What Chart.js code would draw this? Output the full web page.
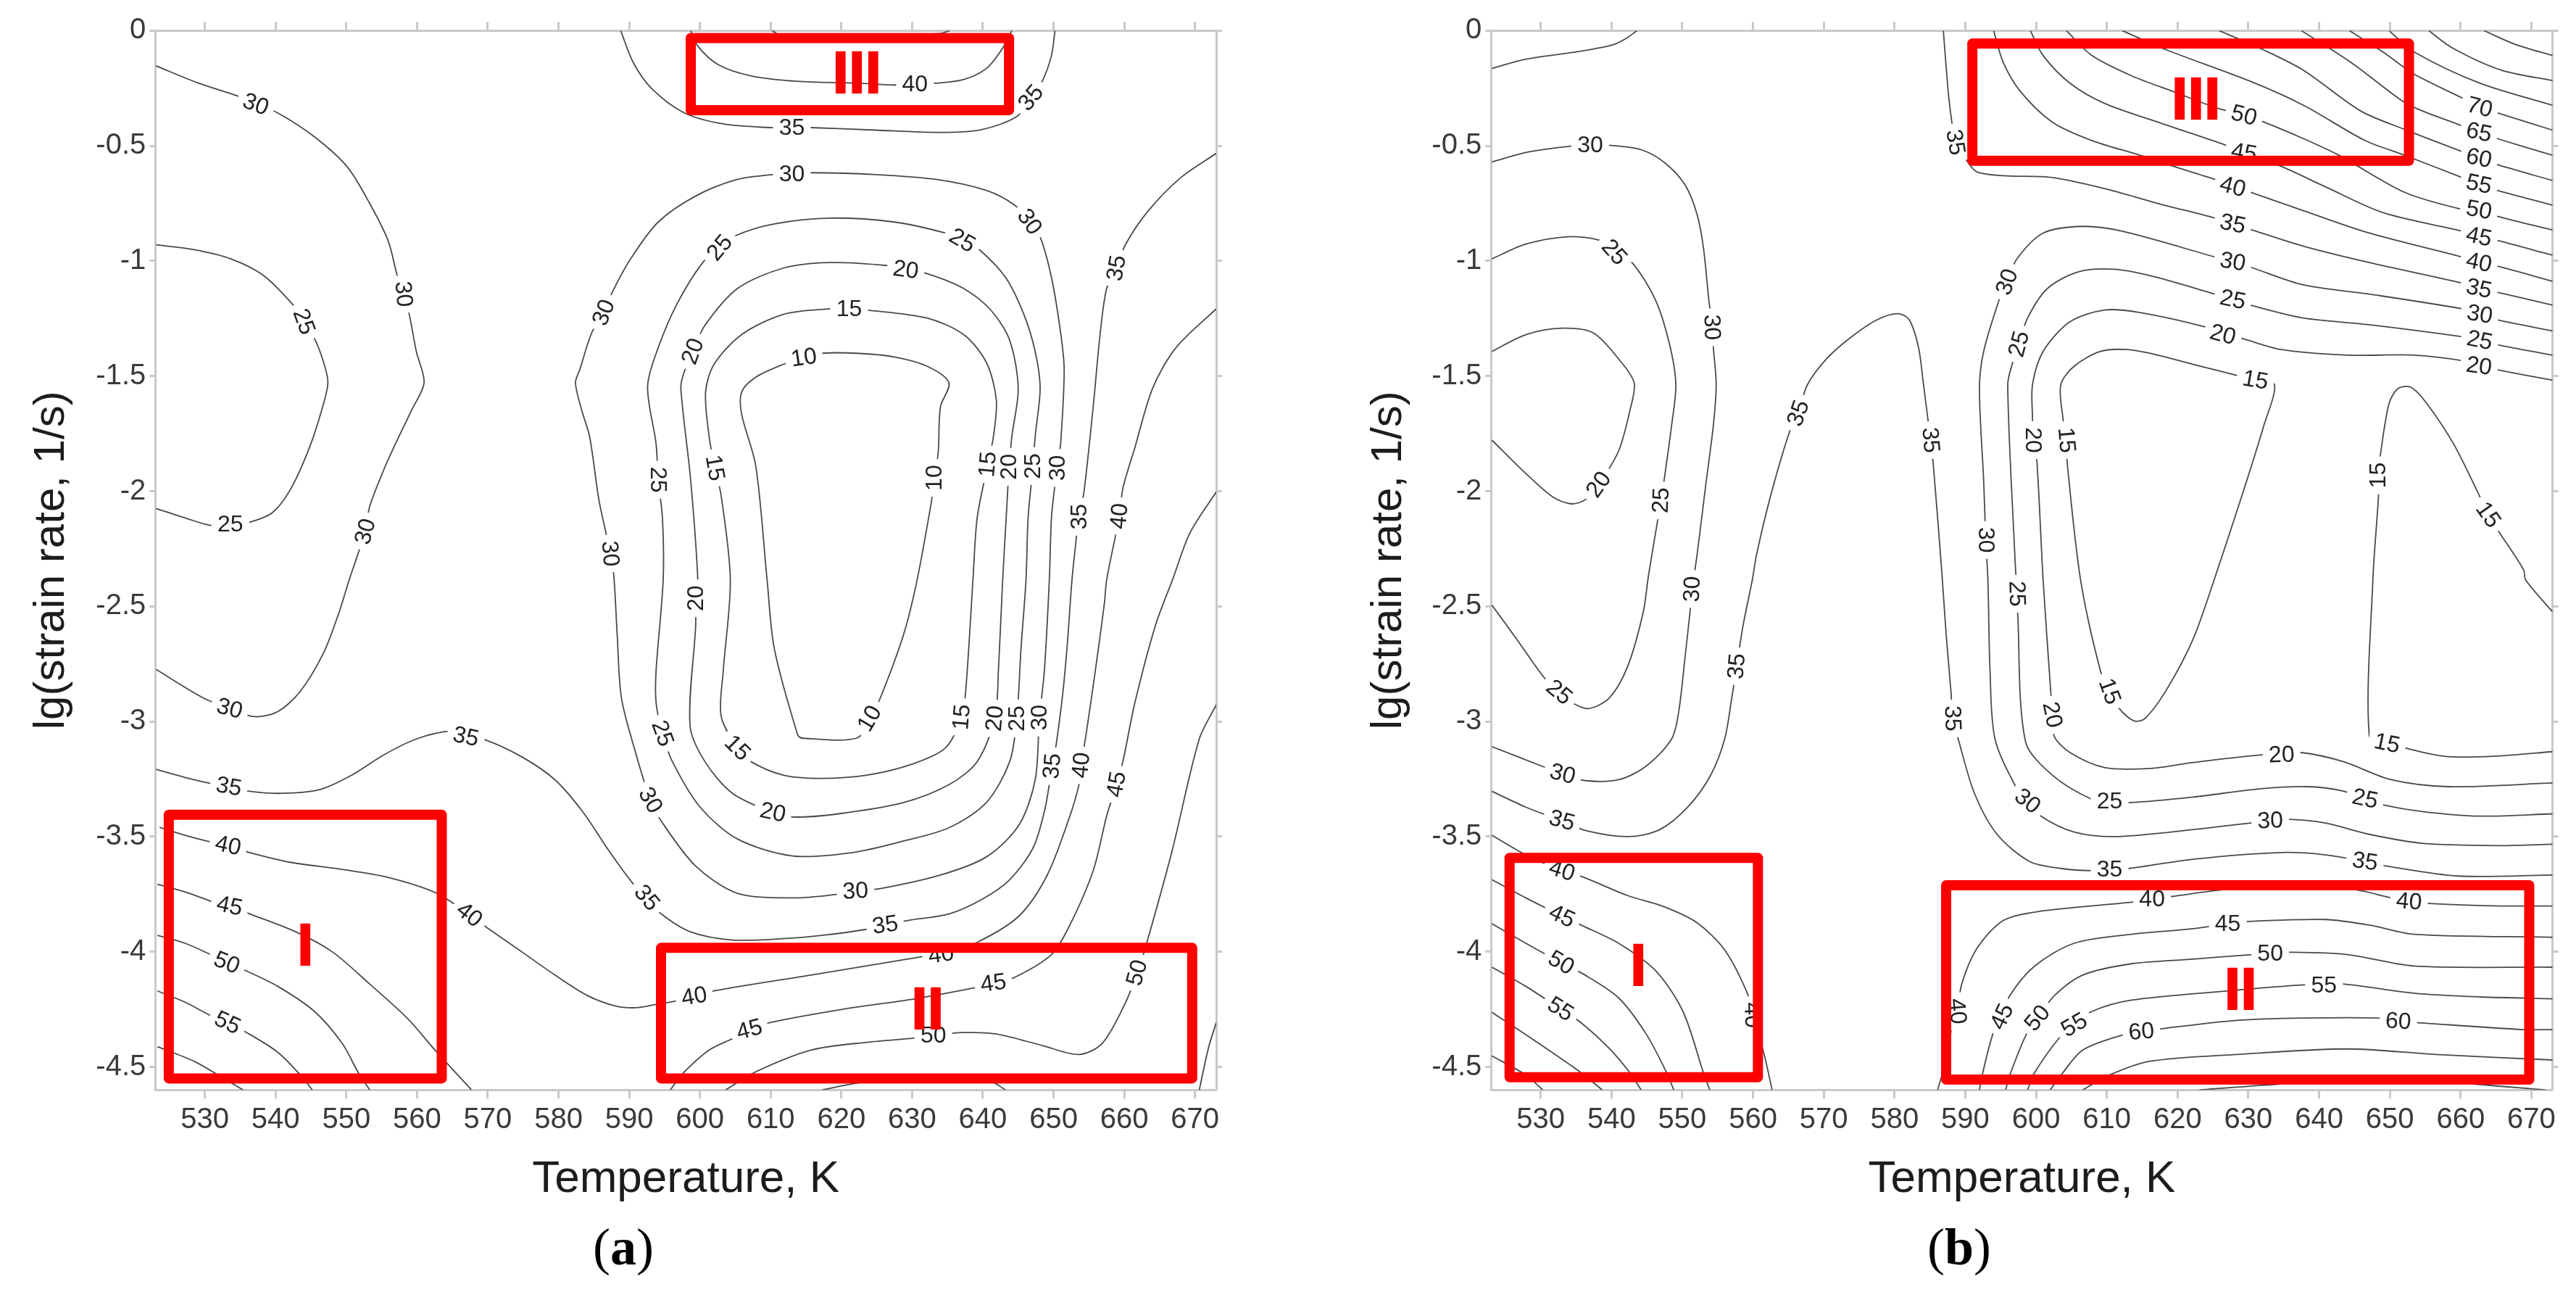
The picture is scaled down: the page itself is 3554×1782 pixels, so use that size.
<!DOCTYPE html>
<html>
<head>
<meta charset="utf-8">
<title>Contour maps</title>
<script src="https://cdn.jsdelivr.net/npm/chart.js@4"></script>
<style>
  body { margin: 0; background: #fff; width: 3554px; height: 1782px; position: relative; overflow: hidden; }
  canvas { position: absolute; top: 0; }
  .cap { position: absolute; top: 1684px; font: 72px/1 "Liberation Serif", serif; color: #000; transform: translateX(-50%); }
</style>
</head>
<body>
<canvas id="chartA" width="1777" height="1782" style="left:0"></canvas>
<canvas id="chartB" width="1777" height="1782" style="left:1777px"></canvas>
<div class="cap" style="left:860px">(<b>a</b>)</div>
<div class="cap" style="left:2703px">(<b>b</b>)</div>
<script>
const xTicks = [530, 540, 550, 560, 570, 580, 590, 600, 610, 620, 630, 640, 650, 660, 670];
const yTicks = [0, -0.5, -1, -1.5, -2, -2.5, -3, -3.5, -4, -4.5];

// panel (a) contours, [temperature, lg rate]
const a30Left = [[523.1,-.153],[529.1,-.228],[535,-.288],[537.2,-.32],[540.3,-.357],[545.5,-.461],[550.1,-.59],[553.3,-.75],[555.9,-.911],[557.2,-1.063],[558.1,-1.144],[558.9,-1.232],[559.9,-1.393],[561,-1.529],[559.2,-1.65],[557.2,-1.778],[555.3,-1.907],[553.3,-2.067],[552.7,-2.175],[551.7,-2.268],[550.4,-2.386],[549,-2.524],[546.8,-2.701],[543.5,-2.869],[540.3,-2.957],[537,-2.979],[533.5,-2.944],[529.8,-2.898],[523.1,-2.774]];
const a25Left = [[523.1,-.93],[528.5,-.951],[533.7,-.991],[538.3,-1.063],[542.5,-1.192],[544,-1.264],[545.5,-1.337],[546.8,-1.441],[547.4,-1.529],[546.5,-1.65],[544.8,-1.81],[542.2,-1.987],[539.6,-2.092],[536.3,-2.135],[533.6,-2.145],[530.8,-2.148],[527.2,-2.116],[523.1,-2.075]];
const a35Long = [[523.1,-3.208],[527.2,-3.243],[531.4,-3.273],[533.4,-3.283],[536.3,-3.303],[540.9,-3.312],[546.1,-3.297],[550.7,-3.234],[555.3,-3.145],[559.9,-3.076],[564.8,-3.042],[566.9,-3.066],[569.7,-3.08],[574.9,-3.155],[579.5,-3.253],[583.4,-3.391],[587.3,-3.569],[590.6,-3.707],[592.5,-3.766],[594.5,-3.835],[598.7,-3.914],[604.6,-3.949],[611.8,-3.943],[617.7,-3.927],[623.2,-3.904],[626.2,-3.884],[629.4,-3.864],[635.3,-3.835],[639.9,-3.772],[643.8,-3.687],[647.1,-3.549],[648.7,-3.391],[649.4,-3.273],[649.8,-3.194],[650.3,-3.115],[651.3,-2.879],[652,-2.642],[652.6,-2.386],[653.3,-2.18],[653.6,-2.111],[654.3,-2.003],[655.6,-1.634],[656.6,-1.312],[657.5,-1.12],[658.9,-1.031],[660.2,-.927],[663.4,-.782],[668,-.638],[673,-.533]];
const a40Long = [[523.6,-3.46],[527.2,-3.494],[531.1,-3.525],[533.3,-3.539],[536.3,-3.569],[542.2,-3.612],[549.4,-3.642],[555.9,-3.677],[562.8,-3.746],[567.4,-3.839],[570.3,-3.904],[574.9,-4.002],[579.5,-4.101],[584.1,-4.19],[588,-4.235],[590.9,-4.243],[593.8,-4.229],[597.4,-4.209],[599.2,-4.194],[602,-4.17],[615.7,-4.101],[632.1,-4.018],[634.1,-4.012],[639.2,-3.959],[645.1,-3.845],[649.1,-3.667],[652.3,-3.411],[653.6,-3.273],[653.9,-3.19],[654.6,-3.056],[655.9,-2.78],[657.2,-2.484],[657.5,-2.386],[659.3,-2.108],[659.8,-1.987],[661.5,-1.81],[664,-1.553],[667.3,-1.377],[673,-1.208]];
const a45Left = [[523.3,-3.707],[527.8,-3.746],[531.4,-3.786],[533.5,-3.801],[536.3,-3.835],[542.9,-3.914],[548.1,-4.002],[553.3,-4.14],[558.6,-4.288],[562.8,-4.436],[567.7,-4.6]];
const a50Left = [[523.3,-3.929],[527.2,-3.963],[530.8,-4.012],[533.1,-4.048],[535.7,-4.081],[540.3,-4.15],[545.5,-4.259],[549.4,-4.397],[551.7,-4.525],[553.3,-4.6]];
const a55Left = [[523.3,-4.17],[527.2,-4.219],[531.1,-4.282],[533.2,-4.308],[535.7,-4.347],[540.3,-4.436],[543.5,-4.535],[545.2,-4.6]];
const a60Left = [[523.3,-4.412],[528.5,-4.476],[532.4,-4.545],[535.4,-4.6]];
const a35Top = [[588.8,0],[590.6,-.14],[593.2,-.252],[597.8,-.357],[603.3,-.405],[609.8,-.421],[613,-.421],[615.7,-.421],[624.9,-.432],[634,-.442],[639.9,-.429],[644.8,-.373],[646.8,-.292],[648.4,-.22],[649.7,-.108],[650.2,0]];
const a40Top = [[598.7,0],[599.7,-.067],[602.6,-.148],[607.2,-.196],[613.8,-.22],[622.2,-.228],[627.5,-.236],[630.4,-.233],[633.4,-.228],[637.3,-.212],[640.5,-.164],[642.8,-.076],[644.1,0]];
const a45Top = [[610.2,0],[611.1,-.015],[622.2,-.03],[634,-.012],[635.3,0]];
const a30Loop = [[650.55,-1.899],[651,-1.794],[651.5,-1.473],[651,-1.312],[649.7,-1.071],[648.1,-.895],[646.6,-.83],[644.5,-.758],[640.5,-.694],[633.4,-.646],[624.9,-.625],[615.7,-.617],[613,-.622],[610.2,-.625],[605.3,-.646],[599.4,-.718],[594.1,-.831],[590.2,-.991],[587.6,-1.136],[586.4,-1.224],[584.7,-1.312],[583,-1.473],[582.4,-1.529],[583.3,-1.65],[584.4,-1.762],[585.7,-2.035],[586.7,-2.18],[587.3,-2.271],[587.8,-2.357],[588.3,-2.622],[588.9,-2.898],[590.9,-3.135],[593,-3.342],[594.5,-3.431],[599.4,-3.628],[605.3,-3.746],[613.1,-3.766],[619,-3.752],[622,-3.736],[625.5,-3.726],[634,-3.667],[640.5,-3.588],[645.1,-3.45],[647.4,-3.253],[648,-2.983],[648.7,-2.78],[649.4,-2.386],[649.7,-2.116],[650.2,-1.971],[650.55,-1.899]];
const a25Loop = [[647.1,-1.891],[647.4,-1.762],[648.1,-1.553],[647.4,-1.393],[645.8,-1.232],[643.2,-1.071],[639.2,-.943],[637.1,-.911],[634.7,-.879],[627.5,-.831],[618.3,-.814],[610.5,-.839],[605.3,-.887],[602.8,-.943],[600.4,-1.007],[596.8,-1.184],[594.1,-1.377],[592.6,-1.545],[593.8,-1.794],[594.1,-1.95],[594.7,-2.116],[594.8,-2.386],[593.8,-2.78],[593.8,-2.918],[594.7,-3.052],[596.1,-3.174],[600,-3.371],[605.3,-3.51],[613.1,-3.584],[621.6,-3.569],[628.8,-3.519],[635.3,-3.46],[640.5,-3.352],[643.8,-3.174],[644.8,-2.987],[645.4,-2.681],[646.1,-2.386],[646.4,-2.116],[647.1,-1.891]];
const a20Loop = [[643.7,-1.894],[644.1,-1.762],[645,-1.553],[643.8,-1.345],[641.2,-1.216],[637.3,-1.12],[632.1,-1.055],[629.1,-1.039],[626.5,-1.02],[618.3,-1.007],[611.8,-1.031],[605.3,-1.12],[600.7,-1.28],[599,-1.393],[597.7,-1.489],[597.3,-1.553],[598.7,-1.955],[599.7,-2.386],[599.4,-2.465],[599.4,-2.583],[598.6,-3.017],[600.7,-3.174],[604.6,-3.312],[610.3,-3.395],[613.1,-3.415],[619.6,-3.401],[628.8,-3.352],[635.3,-3.273],[639.2,-3.174],[641.7,-2.987],[642.2,-2.78],[642.8,-2.386],[643.3,-2.116],[643.7,-1.894]];
const a15Loop = [[640.7,-1.883],[641.5,-1.762],[641.9,-1.602],[640.5,-1.441],[637.3,-1.32],[632.1,-1.248],[623.6,-1.213],[621.1,-1.208],[618.3,-1.208],[611.8,-1.232],[605.9,-1.32],[602,-1.449],[600.8,-1.569],[601.3,-1.762],[602.1,-1.899],[603,-2.019],[604.3,-2.386],[603.3,-2.78],[603,-2.977],[605.3,-3.115],[607.2,-3.174],[611.8,-3.233],[617,-3.247],[623.6,-3.233],[630.1,-3.184],[634.7,-3.115],[637,-2.981],[637.6,-2.859],[638.6,-2.386],[639.2,-2.116],[640.7,-1.883]];
const a10Loop = [[633.2,-1.942],[633.7,-1.826],[634,-1.634],[635.2,-1.529],[632.1,-1.457],[627.5,-1.417],[622.2,-1.401],[617.3,-1.401],[614.7,-1.42],[611.8,-1.449],[607.9,-1.505],[605.9,-1.569],[605.9,-1.666],[607.9,-1.891],[609.5,-2.386],[610.5,-2.681],[613.8,-3.056],[614.4,-3.072],[622.2,-3.072],[624,-2.987],[625.5,-2.898],[628.8,-2.622],[630.7,-2.386],[632.7,-2.051],[633.2,-1.942]];
const a45Right = [[595.8,-4.6],[597.7,-4.525],[601.3,-4.427],[604.6,-4.377],[607,-4.338],[609.8,-4.308],[620.3,-4.249],[630.4,-4.204],[639.9,-4.15],[641.5,-4.136],[644.5,-4.111],[649.7,-4.012],[652.3,-3.884],[655.6,-3.648],[657.5,-3.411],[658.9,-3.273],[659.8,-3.174],[661.5,-2.918],[664.4,-2.583],[666.8,-2.386],[669.3,-2.18],[673,-2.003]];
const a50Right = [[603.6,-4.6],[607.9,-4.521],[615.7,-4.427],[623.6,-4.393],[631.1,-4.373],[633,-4.363],[637.3,-4.351],[641.9,-4.357],[648.4,-4.407],[653.6,-4.446],[656.9,-4.397],[660.2,-4.219],[661.8,-4.091],[662.8,-4.002],[666.7,-3.569],[670.6,-3.076],[673,-2.928]];
const a55Right = [[617.3,-4.6],[622.2,-4.57],[632,-4.535],[641.2,-4.565],[643.2,-4.6]];
const a55Corner = [[670.6,-4.6],[671.9,-4.417],[673,-4.308]];
const contoursA = [a30Left, a25Left, a35Long, a40Long, a45Left, a50Left, a55Left, a60Left, a35Top, a40Top, a45Top, a30Loop, a25Loop, a20Loop, a15Loop, a10Loop, a45Right, a50Right, a55Right, a55Corner];

// [level text, temperature, lg rate, text angle]
const labelsA = [
  ['30',537.2,-.32,20],['30',558.1,-1.144,85],['30',552.7,-2.175,-75],['30',533.5,-2.944,15],
  ['25',544,-1.264,70],['25',533.6,-2.145,0],['35',533.4,-3.283,10],['35',566.9,-3.066,12],
  ['35',592.5,-3.766,50],['35',626.2,-3.884,-8],['35',649.8,-3.194,-85],['35',653.6,-2.111,-90],['35',658.9,-1.031,-80],
  ['40',533.3,-3.539,12],['40',567.4,-3.839,38],['40',599.2,-4.194,-10],['40',634.1,-4.012,-8],['40',653.9,-3.19,-85],['40',659.3,-2.108,-85],
  ['45',533.5,-3.801,12],['50',533.1,-4.048,22],['55',533.2,-4.308,25],
  ['35',613,-.421,0],['35',646.8,-.292,-50],['40',630.4,-.233,0],
  ['30',650.55,-1.899,-90],['30',646.6,-.83,55],['30',613,-.622,0],['30',586.4,-1.224,-68],['30',587.3,-2.271,85],['30',593,-3.342,60],['30',622,-3.736,-3],['30',648,-2.983,-90],
  ['25',647.1,-1.891,-90],['25',637.1,-.911,30],['25',602.8,-.943,-50],['25',594.1,-1.95,90],['25',594.7,-3.052,70],['25',644.8,-2.987,-90],
  ['20',643.7,-1.894,-90],['20',629.1,-1.039,8],['20',599,-1.393,-70],['20',599.4,-2.465,-90],['20',610.3,-3.395,12],['20',641.7,-2.987,-85],
  ['15',640.7,-1.883,-85],['15',621.1,-1.208,0],['15',602.1,-1.899,80],['15',605.3,-3.115,45],['15',637,-2.981,-85],
  ['10',633.2,-1.942,-90],['10',614.7,-1.42,-8],['10',624,-2.987,-60],
  ['45',607,-4.338,-15],['45',641.5,-4.136,-8],['45',658.9,-3.273,-80],['50',633,-4.363,0],['50',661.8,-4.091,-75]
];
// [Tmin, Tmax, lg top, lg bottom]
const boxesA = [[524.9,563.5,-3.405,-4.55],[594.5,669.6,-3.983,-4.55],[598.7,643.7,-.032,-.345]];
const numeralsA = [['I',544.2,-3.969],['II',632.2,-4.245],['III',622.2,-.18]];

// panel (b) contours
const b25Top = [[523.1,-.164],[527.9,-.124],[534.4,-.095],[540,-.063],[542,-.035],[543.6,0]];
const b30Left = [[523.1,-.57],[527.9,-.529],[534.4,-.501],[537,-.498],[539.7,-.498],[544.2,-.517],[547.5,-.573],[550.4,-.67],[552.1,-.798],[553,-.943],[553.7,-1.152],[554.2,-1.288],[554.4,-1.377],[554.8,-1.537],[554.4,-1.714],[553.4,-1.955],[552.1,-2.276],[551.4,-2.425],[551.1,-2.524],[550.4,-2.721],[549.5,-2.958],[548.5,-3.076],[544.9,-3.194],[541,-3.253],[536.4,-3.257],[533.1,-3.228],[530.5,-3.198],[523.1,-3.109]];
const b25Left = [[523.1,-.991],[527.9,-.927],[533.8,-.895],[538.4,-.911],[540.4,-.962],[542.9,-1.007],[546.2,-1.168],[548.2,-1.361],[549.1,-1.537],[548.5,-1.714],[547.5,-1.939],[547,-2.04],[546.5,-2.132],[545.2,-2.373],[544.5,-2.524],[542.3,-2.76],[539.7,-2.898],[536.7,-2.944],[534.4,-2.918],[532.6,-2.873],[530.5,-2.81],[526.6,-2.642],[523.1,-2.494]];
const b20Left = [[523.1,-1.393],[527.9,-1.32],[533.1,-1.292],[537.4,-1.312],[541,-1.425],[543.2,-1.529],[542.6,-1.65],[541,-1.826],[538.2,-1.971],[536.4,-2.035],[534.4,-2.055],[531.8,-2.027],[527.9,-1.923],[523.1,-1.778]];
const b35Long = [[523.1,-3.303],[527.9,-3.372],[531.2,-3.411],[533,-3.43],[536.4,-3.474],[542.3,-3.5],[546.8,-3.47],[550.8,-3.371],[554,-3.234],[556,-3.076],[557,-2.898],[557.7,-2.76],[558.6,-2.583],[559.9,-2.386],[560.5,-2.276],[562.5,-2.019],[565.1,-1.748],[566.4,-1.661],[567.7,-1.537],[570.4,-1.425],[573.6,-1.337],[577.5,-1.256],[580.5,-1.229],[582.1,-1.256],[583.4,-1.377],[584.1,-1.537],[584.7,-1.682],[585.1,-1.778],[585.5,-1.891],[586.7,-2.357],[587.3,-2.622],[588,-2.879],[588.2,-2.987],[589,-3.076],[591.3,-3.312],[594.5,-3.49],[599.1,-3.608],[603.5,-3.638],[607.9,-3.648],[610.4,-3.642],[613.2,-3.638],[622.2,-3.598],[634.7,-3.569],[640.9,-3.579],[646.5,-3.608],[649.6,-3.628],[659.6,-3.671],[673,-3.667]];
const b40Left = [[523.1,-3.494],[527.9,-3.579],[533,-3.648],[536.1,-3.677],[542.3,-3.756],[547.5,-3.805],[552.1,-3.874],[556,-3.992],[559.2,-4.18],[559.9,-4.275],[561.5,-4.436],[562.7,-4.6]];
const b45Left = [[523.1,-3.687],[527.9,-3.766],[533,-3.845],[535.7,-3.884],[541,-3.963],[546.2,-4.081],[550.1,-4.259],[553,-4.525],[553.9,-4.6]];
const b50Left = [[523.1,-3.878],[527.9,-3.963],[532.9,-4.048],[535.7,-4.091],[541,-4.2],[544.9,-4.357],[547.8,-4.525],[548.8,-4.6]];
const b55Left = [[523.1,-4.067],[527.9,-4.15],[532.8,-4.249],[535.7,-4.308],[539.6,-4.417],[542.6,-4.525],[544.2,-4.6]];
const b60Left = [[523.1,-4.263],[529.2,-4.387],[535.7,-4.525],[538.7,-4.6]];
const b65Left = [[523.1,-4.452],[527.9,-4.535],[530.3,-4.6]];
const b30Right = [[673,-3.533],[665.8,-3.539],[654.6,-3.529],[647.1,-3.49],[640.9,-3.441],[635.9,-3.425],[633.1,-3.431],[630.3,-3.441],[619.1,-3.48],[611,-3.5],[605.4,-3.48],[600.7,-3.411],[598.8,-3.346],[597.3,-3.293],[594.2,-3.076],[593.5,-2.78],[593.2,-2.386],[592.9,-2.212],[592.6,-1.955],[592,-1.553],[592.6,-1.393],[594.8,-1.168],[595.9,-1.091],[597.3,-.991],[601,-.879],[606.6,-.85],[612.2,-.871],[625.3,-.983],[627.8,-1.004],[630.3,-1.027],[637.8,-1.104],[647.1,-1.144],[660.2,-1.208],[662.7,-1.232],[665.2,-1.256],[673,-1.304]];
const b25Right = [[673,-3.401],[662.7,-3.411],[654.6,-3.391],[649,-3.362],[646.5,-3.336],[643.4,-3.302],[638.4,-3.283],[631.5,-3.293],[622.2,-3.328],[613.2,-3.352],[610.4,-3.346],[607.9,-3.338],[602.3,-3.233],[598.5,-3.086],[597.4,-2.524],[597.3,-2.445],[597,-2.276],[596,-1.537],[596.7,-1.441],[597.6,-1.361],[598.8,-1.248],[601.6,-1.12],[606,-1.047],[611,-1.036],[616,-1.063],[625.3,-1.144],[627.8,-1.168],[630.3,-1.192],[637.8,-1.248],[647.1,-1.277],[660.2,-1.329],[662.7,-1.345],[665.2,-1.364],[673,-1.409]];
const b20Right = [[673,-3.267],[658.3,-3.283],[650.2,-3.253],[643.4,-3.174],[637.5,-3.135],[634.7,-3.145],[631.9,-3.145],[622.2,-3.178],[616,-3.204],[609.7,-3.2],[604.8,-3.135],[602.6,-3.066],[602.3,-2.971],[602.1,-2.879],[601,-2.386],[600.1,-1.859],[599.6,-1.778],[599.5,-1.682],[599.5,-1.537],[601,-1.393],[604.8,-1.264],[609.7,-1.213],[614.7,-1.224],[624.1,-1.288],[626.4,-1.32],[629.1,-1.337],[634.7,-1.385],[644,-1.409],[653.4,-1.409],[660.2,-1.433],[662.6,-1.457],[665.2,-1.473],[673,-1.518]];
const b15Right = [[673,-3.131],[664.6,-3.151],[657.7,-3.151],[652.1,-3.115],[649.6,-3.095],[647.1,-3.066],[647.6,-2.386],[648.4,-2.019],[648.4,-1.931],[648.7,-1.835],[649.9,-1.618],[651.2,-1.553],[653,-1.549],[655.2,-1.618],[659,-1.794],[662.4,-2.003],[663.9,-2.103],[665.5,-2.18],[668.9,-2.341],[669.2,-2.386],[673,-2.524]];
const b15Inner = [[604.3,-1.778],[603.8,-1.682],[603.5,-1.537],[605.4,-1.457],[609.1,-1.393],[612.9,-1.385],[617.2,-1.409],[622.2,-1.449],[628.4,-1.497],[631,-1.518],[633.7,-1.537],[632.2,-1.714],[629.1,-2.019],[625.3,-2.373],[622.2,-2.642],[618.5,-2.859],[615.4,-2.987],[613.8,-2.997],[611.6,-2.938],[610.4,-2.869],[609.1,-2.78],[606.3,-2.386],[604.4,-1.875],[604.3,-1.778]];
const b35Top = [[586.9,0],[587.6,-.268],[588.1,-.397],[588.6,-.485],[590.4,-.573],[591.7,-.614],[595.4,-.63],[602.3,-.638],[609.7,-.686],[617.2,-.75],[625.3,-.814],[627.8,-.839],[630.6,-.866],[637.8,-.936],[647.1,-1.007],[660.2,-1.096],[662.6,-1.12],[665.2,-1.136],[673,-1.192]];
const b40Top = [[594,0],[595.4,-.14],[597.9,-.268],[602.3,-.397],[607.9,-.477],[614.7,-.541],[619.1,-.586],[625.3,-.646],[627.8,-.678],[630.6,-.705],[637.8,-.782],[647.1,-.879],[660.2,-.983],[662.6,-1.007],[665.2,-1.023],[673,-1.088]];
const b45Top = [[599.2,0],[601,-.108],[604.8,-.228],[609.7,-.316],[617.2,-.397],[627.2,-.501],[629.4,-.53],[634.7,-.59],[640.9,-.678],[649,-.79],[660.2,-.871],[662.6,-.895],[665.2,-.911],[673,-.975]];
const b50Top = [[604.3,0],[607.9,-.108],[613.5,-.196],[619.7,-.268],[625.3,-.333],[629.4,-.368],[632.2,-.397],[637.8,-.469],[642.8,-.541],[652.1,-.702],[660.2,-.776],[662.6,-.779],[665.2,-.806],[673,-.866]];
const b55Top = [[612.2,0],[618.5,-.084],[630.3,-.22],[637.8,-.324],[646.5,-.477],[652.1,-.541],[660.2,-.638],[662.6,-.667],[665.2,-.694],[673,-.758]];
const b60Top = [[625.9,0],[632.2,-.084],[637.8,-.172],[645.9,-.349],[652.1,-.429],[660.2,-.525],[662.6,-.554],[665.2,-.582],[673,-.651]];
const b65Top = [[637.5,0],[644.6,-.14],[651.5,-.3],[654,-.341],[660.2,-.413],[662.6,-.442],[665.2,-.469],[673,-.541]];
const b70Top = [[644.3,0],[649,-.092],[653.4,-.188],[660.2,-.292],[662.7,-.333],[665.2,-.357],[673,-.432]];
const b75Top = [[649.9,0],[653.4,-.092],[662.7,-.228],[673,-.324]];
const b80Top = [[655.5,0],[658.9,-.076],[665.8,-.172],[673,-.217]];
const b85Top = [[663.3,0],[667.7,-.059],[673,-.108]];
const b40Low = [[586.1,-4.6],[586.7,-4.535],[587.9,-4.357],[588.9,-4.259],[589.5,-4.14],[591.7,-3.983],[595.4,-3.864],[600.4,-3.825],[613.5,-3.785],[616.4,-3.772],[619.1,-3.76],[628.4,-3.726],[644,-3.726],[650.2,-3.766],[652.7,-3.782],[655.5,-3.79],[665.8,-3.801],[673,-3.801]];
const b45Low = [[592,-4.6],[592.4,-4.535],[593.9,-4.357],[595.2,-4.282],[596.3,-4.19],[599.8,-4.062],[605.4,-3.963],[613.5,-3.924],[622.2,-3.9],[627.1,-3.878],[630,-3.868],[640.9,-3.86],[647.1,-3.884],[653.4,-3.924],[673,-3.937]];
const b50Low = [[595.7,-4.6],[596.3,-4.535],[598.5,-4.367],[600.2,-4.288],[602.6,-4.19],[606.6,-4.101],[613.5,-4.052],[622.2,-4.032],[630.6,-4.012],[633.1,-4.008],[635.9,-4.002],[644,-4.012],[653.4,-4.062],[673,-4.067]];
const b55Low = [[598.8,-4.6],[599.8,-4.525],[603.2,-4.377],[605.4,-4.318],[607.9,-4.259],[613.5,-4.21],[627.2,-4.17],[637.8,-4.144],[640.7,-4.146],[643.4,-4.14],[653.4,-4.18],[662.7,-4.196],[673,-4.204]];
const b60Low = [[602,-4.6],[603.8,-4.525],[606.6,-4.427],[611.6,-4.367],[614.9,-4.347],[617.8,-4.334],[628.4,-4.298],[637.8,-4.288],[648.4,-4.288],[651.2,-4.302],[654,-4.308],[668.9,-4.338],[673,-4.338]];
const b65Low = [[606.6,-4.6],[610.4,-4.535],[616,-4.476],[628.4,-4.446],[644,-4.422],[656.5,-4.446],[673,-4.47]];
const b70Low = [[623.1,-4.6],[634.7,-4.574],[647.1,-4.554],[659.6,-4.57],[672,-4.6]];
const contoursB = [b25Top, b30Left, b25Left, b20Left, b35Long, b40Left, b45Left, b50Left, b55Left, b60Left, b65Left, b30Right, b25Right, b20Right, b15Right, b15Inner, b35Top, b40Top, b45Top, b50Top, b55Top, b60Top, b65Top, b70Top, b75Top, b80Top, b85Top, b40Low, b45Low, b50Low, b55Low, b60Low, b65Low, b70Low];

const labelsB = [
  ['30',537,-.498,0],['30',554.2,-1.288,88],['30',551.4,-2.425,-88],['30',533.1,-3.228,15],
  ['25',540.4,-.962,48],['25',547,-2.04,-88],['25',532.6,-2.873,40],['20',538.2,-1.971,-55],
  ['35',533,-3.43,15],['35',557.7,-2.76,-85],['35',566.4,-1.661,-70],['35',585.1,-1.778,85],['35',588.2,-2.987,88],['35',610.4,-3.642,0],['35',646.5,-3.608,8],
  ['40',533,-3.648,18],['40',559.9,-4.275,88],['45',533,-3.845,25],['50',532.9,-4.048,30],['55',532.8,-4.249,32],
  ['30',633.1,-3.431,-2],['30',598.8,-3.346,38],['30',592.9,-2.212,90],['30',595.9,-1.091,-70],['30',627.8,-1.004,10],['30',662.7,-1.232,10],
  ['25',646.5,-3.336,12],['25',610.4,-3.346,0],['25',597.3,-2.445,88],['25',597.6,-1.361,-75],['25',627.8,-1.168,12],['25',662.7,-1.345,12],
  ['20',634.7,-3.145,-2],['20',602.3,-2.971,78],['20',599.6,-1.778,90],['20',626.4,-1.32,15],['20',662.6,-1.457,8],
  ['15',649.6,-3.095,12],['15',648.4,-1.931,-90],['15',663.9,-2.103,55],['15',631,-1.518,10],['15',610.4,-2.869,70],['15',604.3,-1.778,85],
  ['35',588.6,-.485,80],['35',627.8,-.839,12],['35',662.6,-1.12,12],
  ['40',627.8,-.678,15],['40',662.6,-1.007,12],['45',629.4,-.53,10],['45',662.6,-.895,12],
  ['50',629.4,-.368,15],['50',662.6,-.779,10],['55',662.6,-.667,12],['60',662.6,-.554,12],['65',662.6,-.442,12],['70',662.7,-.333,15],
  ['40',588.9,-4.259,85],['40',616.4,-3.772,0],['40',652.7,-3.782,5],['45',595.2,-4.282,-65],['45',627.1,-3.878,0],
  ['50',600.2,-4.288,-50],['50',633.1,-4.008,0],['55',605.4,-4.318,-30],['55',640.7,-4.146,0],['60',614.9,-4.347,-5],['60',651.2,-4.302,3]
];
const boxesB = [[525.6,560.7,-3.592,-4.545],[587.3,669.7,-3.711,-4.555],[591,652.7,-.056,-.565]];
const numeralsB = [['I',543.8,-4.056],['II',628.9,-4.16],['III',622.6,-.293]];

const axisGray = '#c9c9c9';
const sans = '"Liberation Sans", Arial, sans-serif';

// draws contour numbers with a white gap under them, below the red boxes
const contourLabels = {
  id: 'contourLabels',
  beforeDatasetDraw(chart, args, opts) {
    if (args.index !== opts.boxCount - 1) return;
    const { ctx, scales: { x, y } } = chart;
    opts.rows.forEach(([text, t, lg, angle]) => {
      ctx.save();
      ctx.translate(x.getPixelForValue(t), y.getPixelForValue(lg));
      ctx.rotate(angle * Math.PI / 180);
      ctx.fillStyle = '#fff';
      ctx.fillRect(-26, -13, 52, 26);
      ctx.fillStyle = '#222';
      ctx.font = '32px ' + sans;
      ctx.textAlign = 'center';
      ctx.textBaseline = 'middle';
      ctx.fillText(text, 0, 1);
      ctx.restore();
    });
  }
};

const romanNumerals = {
  id: 'romanNumerals',
  afterDatasetsDraw(chart, args, opts) {
    const { ctx, scales: { x, y } } = chart;
    opts.rows.forEach(([text, t, lg]) => {
      ctx.save();
      ctx.fillStyle = '#f00';
      ctx.strokeStyle = '#f00';
      ctx.lineWidth = 2;
      ctx.font = 'bold 81px ' + sans;
      ctx.textAlign = 'center';
      ctx.textBaseline = 'middle';
      ctx.fillText(text, x.getPixelForValue(t), y.getPixelForValue(lg) + 6);
      ctx.strokeText(text, x.getPixelForValue(t), y.getPixelForValue(lg) + 6);
      ctx.restore();
    });
  }
};

function pairs(list) {
  return list.map(p => ({ x: p[0], y: p[1] }));
}

function boxOutline(b) {
  return [[b[0], b[2]], [b[1], b[2]], [b[1], b[3]], [b[0], b[3]], [b[0], b[2]]];
}

function plotPanel(id, contours, boxes, labels, numerals, leftWidth, rightPad, yTitlePad) {
  const setTicks = list => scale => { scale.ticks = list.map(v => ({ value: v })); };
  const grid = len => ({ drawOnChartArea: false, tickLength: len, tickWidth: 3, tickColor: axisGray, color: axisGray });
  const border = { color: axisGray, width: 3 };

  const boxSets = boxes.map(b => ({
    data: pairs(boxOutline(b)),
    borderColor: '#f00',
    borderWidth: 14,
    borderJoinStyle: 'round',
    borderCapStyle: 'round',
    tension: 0,
    clip: false
  }));
  const lineSets = contours.map(c => ({
    data: pairs(c),
    borderColor: '#4a4a4a',
    borderWidth: 1.8,
    tension: 0.3
  }));

  return new Chart(document.getElementById(id), {
    type: 'scatter',
    data: { datasets: boxSets.concat(lineSets) },
    plugins: [contourLabels, romanNumerals],
    options: {
      responsive: false,
      animation: false,
      devicePixelRatio: 1,
      showLine: true,
      layout: { padding: { top: 30.3, left: 0, right: rightPad, bottom: 0 } },
      elements: { point: { radius: 0 } },
      scales: {
        x: {
          type: 'linear', position: 'bottom', min: 523, max: 673,
          afterBuildTicks: setTicks(xTicks),
          afterFit: s => { s.height = 278.7; },
          grid: grid(12), border,
          ticks: { color: '#3a3a3a', font: { family: sans, size: 40 }, padding: 6, maxRotation: 0, autoSkip: false, callback: v => String(v) },
          title: { display: true, text: 'Temperature, K', color: '#1c1c1c', font: { family: sans, size: 62 }, padding: { top: 0, bottom: 118 } }
        },
        y: {
          type: 'linear', position: 'left', min: -4.6, max: 0,
          afterBuildTicks: setTicks(yTicks),
          afterFit: s => { s.width = leftWidth; },
          grid: grid(8), border,
          ticks: { color: '#3a3a3a', font: { family: sans, size: 40 }, padding: 5, autoSkip: false, callback: v => String(v) },
          title: { display: true, text: 'lg(strain rate, 1/s)', color: '#1c1c1c', font: { family: sans, size: 60 }, padding: { top: yTitlePad, bottom: 0 } }
        },
        xTop: {
          type: 'linear', position: 'top', min: 523, max: 673,
          afterBuildTicks: setTicks(xTicks),
          afterFit: s => { s.height = 12; },
          grid: grid(12), border,
          ticks: { display: false }
        },
        yRight: {
          type: 'linear', position: 'right', min: -4.6, max: 0,
          afterBuildTicks: setTicks(yTicks),
          afterFit: s => { s.width = 12; },
          grid: grid(8), border,
          ticks: { display: false }
        }
      },
      plugins: {
        legend: { display: false },
        tooltip: { enabled: false },
        contourLabels: { rows: labels, boxCount: boxes.length },
        romanNumerals: { rows: numerals }
      }
    }
  });
}

plotPanel('chartA', contoursA, boxesA, labelsA, numeralsA, 214.3, 87, 35);
plotPanel('chartB', contoursB, boxesB, labelsB, numeralsB, 280.3, 20.3, 103);
</script>
</body>
</html>
